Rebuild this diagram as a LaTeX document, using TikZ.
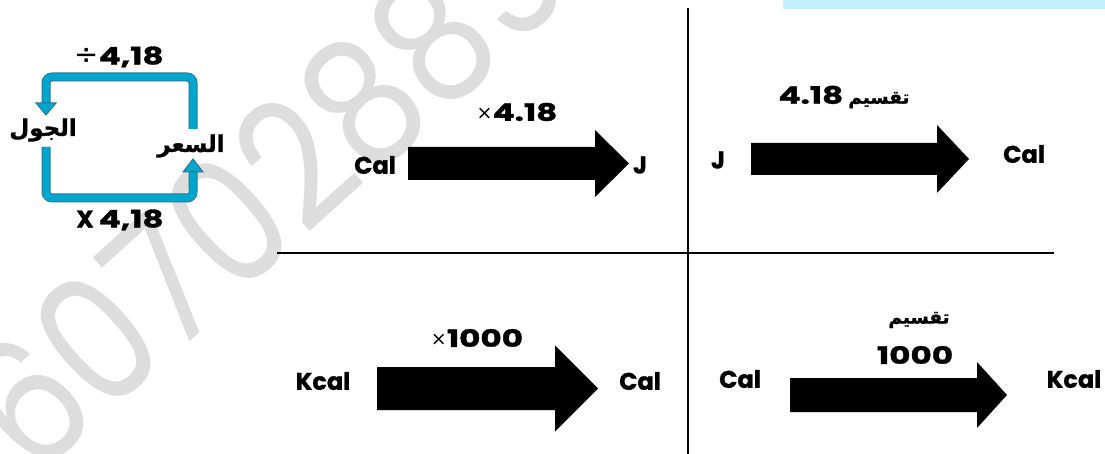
\documentclass[tikz,border=0pt]{standalone}
\usepackage{fontspec}
\usepackage{graphicx}
\setmainfont{Poppins}[BoldFeatures={FakeBold=1.2}]
\newfontfamily\arabicfont[Script=Arabic, BoldFeatures={FakeBold=1.2}]{DejaVu Sans}
\newfontfamily\symfont{DejaVu Sans}
\TeXXeTstate=1
\usetikzlibrary{calc}

\definecolor{loopfill}{RGB}{0,166,203}
\definecolor{loopedge}{RGB}{38,118,148}
\definecolor{headband}{RGB}{194,240,252}
\definecolor{wmgray}{RGB}{221,221,221}

% block arrow: left x, neck x, tip x, centre y, body half-height, head half-height
\newcommand\blockarrow[6]{%
  \fill[black] (#1,{#4-#5}) -- (#2,{#4-#5}) -- (#2,{#4-#6}) -- (#3,#4)
    -- (#2,{#4+#6}) -- (#2,{#4+#5}) -- (#1,{#4+#5}) -- cycle;}
% wide figures
\newcommand\wnum[1]{\scalebox{1.36}[1]{#1}}
% light operator signs
\newcommand\timessign{\raisebox{1.5pt}{\symfont\mdseries\fontsize{19}{19}\selectfont ×}}
\newcommand\divsign{\raisebox{0pt}{\symfont\mdseries\fontsize{29}{29}\selectfont ÷}}

\tikzset{
  lbl/.style={font=\fontsize{24}{24}\selectfont\bfseries, inner sep=0pt},
  ar/.style={font=\fontsize{23}{23}\selectfont\arabicfont\bfseries, inner sep=0pt},
  grid/.style={line width=2pt, black},
  bandout/.style={line width=9pt, loopedge, rounded corners=6pt},
  bandin/.style={line width=7pt, loopfill, rounded corners=5pt},
  bandhead/.style={fill=loopfill, draw=loopedge, line width=1pt, line join=miter},
  wm/.style={font=\fontsize{176}{176}\selectfont\mdseries, text=wmgray, inner sep=0pt}
}

\begin{document}
\begin{tikzpicture}[x=1pt,y=-1pt]
\useasboundingbox (0,0) rectangle (1105,454);
\clip (0,0) rectangle (1105,454);

% faint diagonal number in the background
\node[wm, rotate=42, anchor=base west] (mark) at (34,482) {\scalebox{0.85}[1]{607028893}};

% light band at the top right
\fill[headband] (783,0) rectangle (1105,9);

% dividing cross
\coordinate (vtop) at (688,8);
\coordinate (vbot) at (688,454);
\coordinate (hl) at (277,253);
\coordinate (hr) at (1054,253);
\draw[grid] (vtop) -- (vbot);
\draw[grid] (hl) -- (hr);

% ---- conversion loop, top left ----
\node[lbl] (div) at (119,57) {\divsign\wnum{4,18}};
\node[lbl] (mul) at (120,220) {X \wnum{4,18}};
\node[ar] (joule) at (43,130) {\beginR الجول\endR};
\node[ar] (cal) at (191,146) {\beginR السعر\endR};

\coordinate (a1) at (193,129);
\coordinate (a2) at (46,104);
\coordinate (b1) at (46,147);
\coordinate (b2) at (193,172);
\draw[bandout] (a1) -- (a1 |- 0,77) -- (a2 |- 0,77) -- (a2);
\draw[bandin]  (a1) -- (a1 |- 0,77) -- (a2 |- 0,77) -- (a2);
\draw[bandhead] (36,103) -- (56,103) -- (46,115) -- cycle;
\draw[bandout] (b1) -- (b1 |- 0,198) -- (b2 |- 0,198) -- (b2);
\draw[bandin]  (b1) -- (b1 |- 0,198) -- (b2 |- 0,198) -- (b2);
\draw[bandhead] (183,172) -- (203,172) -- (193,159) -- cycle;

% ---- Cal to J ----
\node[lbl] (calA) at (375,165) {Cal};
\node[lbl] (jA) at (640,165) {J};
\node[lbl] (mA) at (517,112) {\timessign\wnum{4.18}};
\blockarrow{408}{595}{629}{163.5}{16.5}{33.5}

% ---- J to Cal ----
\node[lbl] (jB) at (718,160) {J};
\node[lbl] (calB) at (1024,154) {Cal};
\node[lbl] (dB) at (844,97) {\wnum{4.18} {\arabicfont\fontsize{18.5}{18.5}\selectfont\beginR تقسيم\endR}};
\blockarrow{751}{937}{969}{159}{16}{34}

% ---- Kcal to Cal ----
\node[lbl] (kcalC) at (323,381) {Kcal};
\node[lbl] (calC) at (640,381) {Cal};
\node[lbl] (mC) at (477,338) {\timessign\wnum{1000}};
\blockarrow{377}{555}{598}{388.5}{21.5}{43}

% ---- Cal to Kcal ----
\node[lbl] (calD) at (740,379) {Cal};
\node[lbl] (kcalD) at (1074,379) {Kcal};
\node[ar, font=\fontsize{18.5}{18.5}\selectfont\arabicfont\bfseries] (dD) at (919,320) {\beginR تقسيم\endR};
\node[lbl] (nD) at (915,355) {\wnum{1000}};
\blockarrow{790}{977}{1007}{395}{17}{33}
\end{tikzpicture}
\end{document}
